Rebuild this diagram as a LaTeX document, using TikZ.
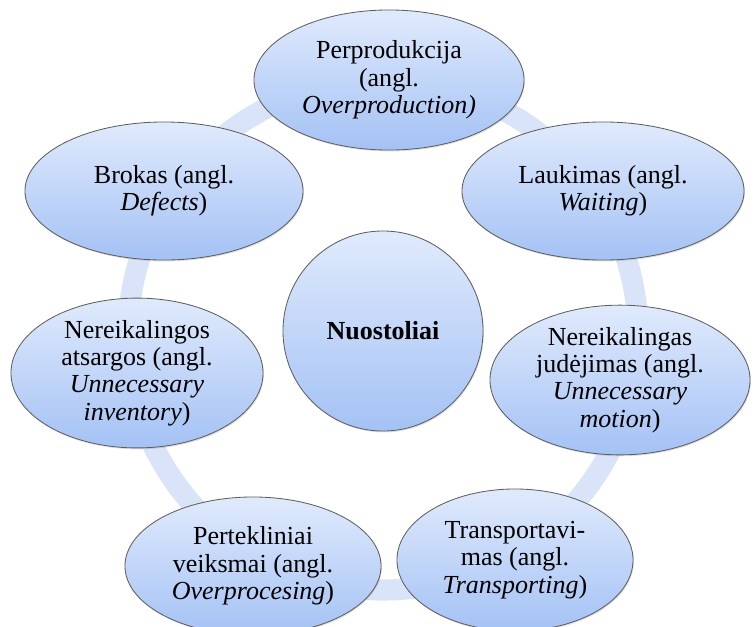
\documentclass[tikz,border=0pt]{standalone}
\usepackage{fontspec}
\setmainfont{Liberation Serif}
\usetikzlibrary{shapes.geometric, shadows}
\definecolor{ovaltop}{RGB}{224, 234, 252}
\definecolor{ovalbottom}{RGB}{164, 194, 245}
\definecolor{ovalline}{RGB}{95, 95, 95}
\definecolor{ringblue}{RGB}{218, 228, 248}
\tikzstyle{waste} = [ellipse, draw=ovalline, line width=0.6pt, top color=ovaltop, bottom color=ovalbottom,
                     inner sep=0pt, align=center, font=\fontsize{18.5}{19.5}\selectfont,
                     drop shadow={opacity=0.25, shadow xshift=0.6pt, shadow yshift=-1pt}]
\tikzstyle{core} = [circle, draw=ovalline, line width=0.6pt, top color=ovaltop, bottom color=ovalbottom,
                    minimum size=5cm, inner sep=0pt, font=\fontsize{18.5}{19.5}\selectfont\bfseries,
                    drop shadow={opacity=0.25, shadow xshift=0.6pt, shadow yshift=-1pt}]
\tikzstyle{ring} = [ringblue, line width=15pt]

\begin{document}
\begin{tikzpicture}[x=0.025cm, y=-0.025cm]
\useasboundingbox (0, 0) rectangle (754, 626);

% Ring behind the ovals
\coordinate (hub) at (383, 335);
\draw[ring] (hub) circle [radius=255];

% Centre
\node[core] (losses) at (383, 331) {Nuostoliai};

% Seven wastes
\node[waste, minimum width=6.75cm, minimum height=3.5cm] (overprod) at (389, 80) {
    Perprodukcija\\
    (angl.\\
    \textit{Overproduction)}
};
\node[waste, minimum width=7.05cm, minimum height=3.45cm] (waiting) at (603, 191) {
    Laukimas (angl.\\
    \textit{Waiting})
};
\node[waste, minimum width=6.5cm, minimum height=3.35cm] (motion) at (620, 380) {
    Nereikalingas\\
    judėjimas (angl.\\
    \textit{Unnecessary}\\
    \textit{motion})
};
\node[waste, minimum width=5.9cm, minimum height=3.55cm] (transport) at (515, 560) {
    Transportavi-\\
    mas (angl.\\
    \textit{Transporting})
};
\node[waste, minimum width=6.4cm, minimum height=3.45cm] (overproc) at (253, 566) {
    Pertekliniai\\
    veiksmai (angl.\\
    \textit{Overprocesing})
};
\node[waste, minimum width=6.3cm, minimum height=3.5cm] (inventory) at (137, 373) {
    Nereikalingos\\
    atsargos (angl.\\
    \textit{Unnecessary}\\
    \textit{inventory})
};
\node[waste, minimum width=6.95cm, minimum height=3.45cm] (defects) at (164, 191) {
    Brokas (angl.\\
    \textit{Defects})
};

\end{tikzpicture}
\end{document}
